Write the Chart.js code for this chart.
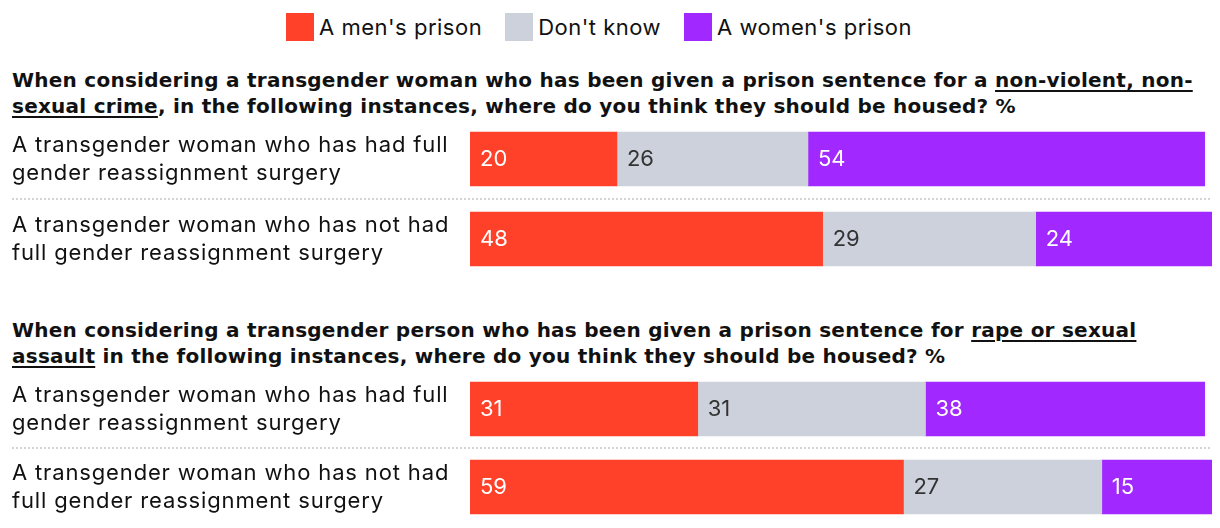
<!DOCTYPE html>
<html>
<head>
<meta charset="utf-8">
<script src="https://cdn.jsdelivr.net/npm/chart.js@4.4.0/dist/chart.umd.min.js"></script>
<style>
  body { margin: 0; width: 1220px; height: 528px; background: #fff; position: relative; overflow: hidden; font-family: Inter, "Noto Sans", sans-serif; color: #111; }
  #legend { position: absolute; top: 13px; left: -11px; width: 1220px; display: flex; justify-content: center; font-size: 22px; letter-spacing: 0.5px; }
  .item { display: flex; align-items: center; margin: 0 11.5px; }
  .sw { width: 28px; height: 28px; margin-right: 5px; }
  h2 { position: absolute; left: 12px; margin: 0; font-family: "DejaVu Sans", sans-serif; font-size: 20px; font-weight: 700; line-height: 26px; white-space: nowrap; letter-spacing: 0.25px; }
  h2 u { text-underline-offset: 3px; text-decoration-thickness: 2px; }
  canvas { position: absolute; left: 0; }
</style>
</head>
<body>
<div id="legend"></div>
<h2 style="top:67px">When considering a transgender woman who has been given a prison sentence for a <u>non-violent, non-</u><br><u>sexual crime</u>, in the following instances, where do you think they should be housed? %</h2>
<canvas id="chart1" width="1220" height="160" style="top:119px"></canvas>
<h2 style="top:317px">When considering a transgender person who has been given a prison sentence for <u>rape or sexual</u><br><u>assault</u> in the following instances, where do you think they should be housed? %</h2>
<canvas id="chart2" width="1220" height="156" style="top:370px"></canvas>
<script>
const seriesNames = ["A men's prison", "Don't know", "A women's prison"];
const seriesColors = ['#ff4129', '#cdd1dc', '#a128ff'];
const labelColors = ['#ffffff', '#333333', '#ffffff'];

const categories = [
  ['A transgender woman who has had full', 'gender reassignment surgery'],
  ['A transgender woman who has not had', 'full gender reassignment surgery']
];

// non-violent, non-sexual crime
const nonViolentMen = [20, 48];
const nonViolentDontKnow = [26, 29];
const nonViolentWomen = [54, 24];

// rape or sexual assault
const assaultMen = [31, 59];
const assaultDontKnow = [31, 27];
const assaultWomen = [38, 15];

// legend
const legendEl = document.getElementById('legend');
seriesNames.forEach((name, i) => {
  const item = document.createElement('div');
  item.className = 'item';
  item.innerHTML = `<span class="sw" style="background:${seriesColors[i]}"></span><span>${name}</span>`;
  legendEl.appendChild(item);
});

// a bit of tracking so Inter is closer to the original typeface
const tracking = {
  id: 'tracking',
  beforeDraw(chart) { chart.ctx.letterSpacing = '0.85px'; }
};

const barLabels = {
  id: 'barLabels',
  afterDatasetsDraw(chart) {
    const ctx = chart.ctx;
    ctx.save();
    ctx.letterSpacing = '0px';
    ctx.font = '22px Inter, "Noto Sans", sans-serif';
    ctx.textAlign = 'left';
    ctx.textBaseline = 'middle';
    chart.data.datasets.forEach((ds, i) => {
      chart.getDatasetMeta(i).data.forEach((bar, j) => {
        ctx.fillStyle = labelColors[i];
        ctx.fillText(ds.data[j], Math.min(bar.base, bar.x) + 10, bar.y);
      });
    });
    ctx.restore();
  }
};

const separator = {
  id: 'separator',
  afterDatasetsDraw(chart) {
    const y = chart.scales.y;
    const ctx = chart.ctx;
    const mid = Math.round((y.getPixelForValue(0) + y.getPixelForValue(1)) / 2);
    ctx.save();
    ctx.strokeStyle = '#d4d4d4';
    ctx.lineWidth = 2;
    ctx.setLineDash([2, 2]);
    ctx.beginPath();
    ctx.moveTo(12, mid);
    ctx.lineTo(chart.chartArea.right, mid);
    ctx.stroke();
    ctx.restore();
  }
};

function makeChart(id, men, dk, women) {
  const values = [men, dk, women];
  return new Chart(document.getElementById(id), {
    type: 'bar',
    data: {
      labels: categories,
      datasets: seriesNames.map((name, i) => ({
        label: name,
        data: values[i],
        backgroundColor: seriesColors[i],
        borderWidth: 0,
        barThickness: 54
      }))
    },
    options: {
      indexAxis: 'y',
      responsive: false,
      animation: false,
      layout: { padding: { left: 12, right: 8, top: 0, bottom: 0 } },
      scales: {
        x: { stacked: true, min: 0, max: 101, display: false },
        y: {
          stacked: true,
          grid: { display: false },
          border: { display: false },
          ticks: {
            crossAlign: 'far',
            padding: 0,
            color: '#111',
            font: { family: 'Inter, "Noto Sans", sans-serif', size: 22, lineHeight: 1.27 }
          },
          afterFit(scale) {
            scale.width = 458;
            scale.paddingTop = 0;
            scale.paddingBottom = 0;
          }
        }
      },
      plugins: {
        legend: { display: false },
        tooltip: { enabled: false }
      }
    },
    plugins: [tracking, barLabels, separator]
  });
}

makeChart('chart1', nonViolentMen, nonViolentDontKnow, nonViolentWomen);
makeChart('chart2', assaultMen, assaultDontKnow, assaultWomen);
</script>
</body>
</html>
